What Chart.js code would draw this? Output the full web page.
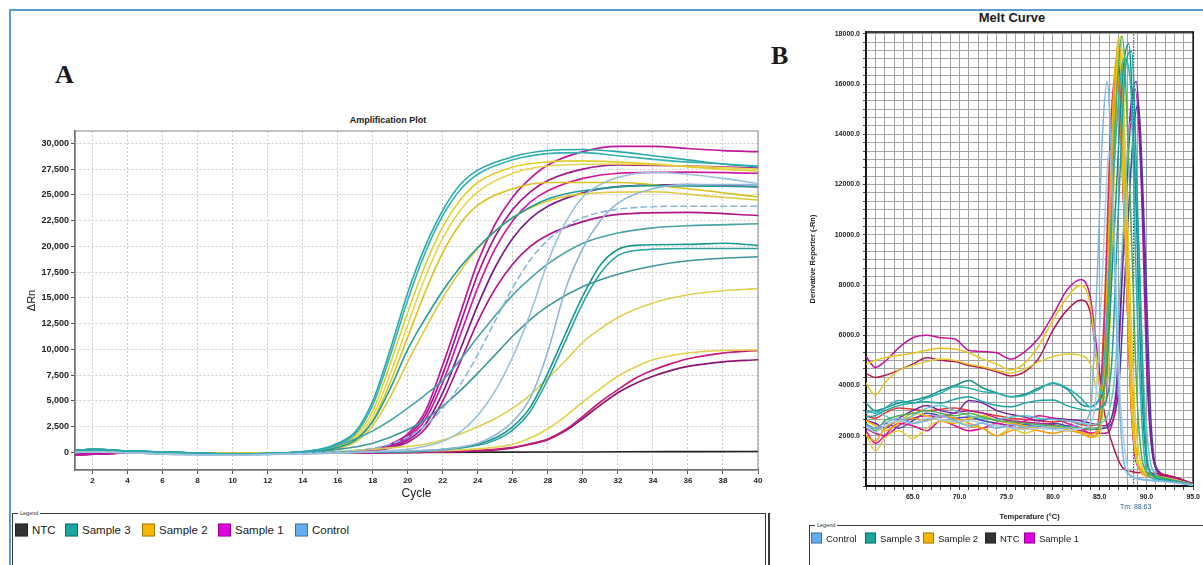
<!DOCTYPE html>
<html>
<head>
<meta charset="utf-8">
<script src="https://cdn.jsdelivr.net/npm/chart.js@4.4.1/dist/chart.umd.min.js"></script>
<style>
  body { margin: 0; width: 1203px; height: 565px; overflow: hidden; position: relative; background: #fff;
         font-family: "Liberation Sans", Arial, sans-serif; color: #1a1a1a; }
  .abs { position: absolute; }
  #frame { left: 9px; top: 9px; width: 1300px; height: 700px; border-top: 2px solid #5b9bd5; border-left: 2px solid #5b9bd5; }
  .panel { font-family: "Liberation Serif", "DejaVu Serif", serif; font-weight: bold; font-size: 26px; }
  .ctitle { font-weight: bold; white-space: nowrap; transform: translate(-50%, -50%); }
  .lbox { border: 1.5px solid #3a3a3a; border-bottom: none; }
  .ltag { font-size: 5.5px; background: #fff; padding: 0 2px; color: #333; transform: translateY(-50%); }
  .sq { width: 12px; height: 12px; border: 1px solid rgba(0,0,0,0.35); box-sizing: border-box; transform: translateY(-50%); }
  .lt { white-space: nowrap; transform: translateY(-50%); }
</style>
</head>
<body>
<div id="frame" class="abs"></div>

<div class="abs panel" style="left:55px; top:60px;">A</div>
<div class="abs panel" style="left:771px; top:41px;">B</div>

<div class="abs ctitle" style="left:388px; top:120px; font-size:9px;">Amplification Plot</div>
<div class="abs ctitle" style="left:1012px; top:17px; font-size:13px;">Melt Curve</div>

<canvas id="ampCanvas" class="abs" width="760" height="400" style="left:12px; top:108px; width:760px; height:400px;"></canvas>
<canvas id="meltCanvas" class="abs" width="403" height="525" style="left:800px; top:0px; width:403px; height:525px;"></canvas>

<!-- legend A -->
<div class="abs lbox" style="left:12px; top:513px; width:752px; height:70px;"></div>
<div class="abs" style="left:768px; top:513px; width:1.5px; height:60px; background:#3a3a3a;"></div>
<div class="abs ltag" style="left:18px; top:513px;">Legend</div>
<div id="legendA"></div>

<!-- legend B -->
<div class="abs lbox" style="left:809px; top:525px; width:420px; height:60px;"></div>
<div class="abs ltag" style="left:815px; top:525px;">Legend</div>
<div id="legendB"></div>

<script>
// ---------- Amplification plot data (cycle, ΔRn) ----------
const cycleTicks = [2, 4, 6, 8, 10, 12, 14, 16, 18, 20, 22, 24, 26, 28, 30, 32, 34, 36, 38, 40];
const deltaRnTicks = [0, 2500, 5000, 7500, 10000, 12500, 15000, 17500, 20000, 22500, 25000, 27500, 30000];

const baseTeal = [[1, 200], [2, 300], [4, 150], [7, 0], [10, -150], [13, -50]];
const baseYellow = [[1, 150], [2, 250], [4, 100], [7, -50], [10, -100], [13, -30]];
const baseMagenta = [[1, -200], [2, -150], [4, -50], [7, -100], [10, -150], [13, -80]];
const baseBlue = [[1, 0], [2, 50], [4, -30], [7, -200], [10, -260], [13, -150]];

const sample3Amp = [
  [[15, 300], [16, 900], [17, 2000], [18, 5000], [19, 10000], [20, 15500], [21, 20000], [22, 23500], [23, 26000], [24, 27400], [26, 28700], [28, 29300], [30, 29400], [32, 29200], [34, 28800], [36, 28400], [38, 28000], [40, 27700]],
  [[15, 250], [16, 800], [17, 1800], [18, 4600], [19, 9400], [20, 14800], [21, 19400], [22, 23000], [23, 25500], [24, 27000], [26, 28400], [28, 29000], [30, 29100], [32, 28800], [35, 28300], [38, 28000], [40, 27800]],
  [[15, 150], [16, 500], [17, 1200], [18, 3000], [19, 6200], [20, 10000], [21, 13000], [22, 15700], [23, 18000], [24, 19900], [25, 21500], [26, 22800], [28, 24600], [30, 25400], [34, 25900], [40, 25800]],
  [[15, 0], [20, 100], [22, 300], [24, 800], [25, 1400], [26, 2500], [27, 4400], [28, 7700], [29, 11500], [30, 15200], [31, 18200], [32, 19700], [33, 20100], [36, 20200], [38, 20300], [40, 20100]],
  [[15, 0], [20, 80], [22, 250], [24, 700], [25, 1200], [26, 2200], [27, 4000], [28, 7100], [29, 10800], [30, 14500], [31, 17400], [32, 19100], [33, 19600], [36, 19800], [38, 19800], [40, 19800]],
  [[14, 100], [15, 300], [16, 700], [17, 1300], [18, 2100], [19, 3100], [20, 4300], [21, 5600], [22, 7000], [23, 9000], [24, 11200], [25, 13300], [26, 15300], [27, 16900], [28, 18300], [30, 20300], [32, 21300], [34, 21800], [36, 22000], [40, 22200]],
  [[14, 50], [16, 300], [18, 900], [20, 2200], [21, 3200], [22, 4500], [23, 6000], [24, 7700], [25, 9500], [26, 11300], [27, 12900], [28, 14200], [30, 16100], [32, 17300], [34, 18100], [36, 18600], [38, 18850], [40, 19000]]
];
const sample3AmpColors = ['#2aa9ad', '#36b2b2', '#1f9e96', '#17998f', '#2ba3a3', '#4aa3a6', '#3d9598'];

const sample2Amp = [
  [[15, 200], [16, 700], [17, 1600], [18, 4000], [19, 8600], [20, 13600], [21, 18200], [22, 21900], [23, 24500], [24, 26200], [26, 27700], [28, 28200], [30, 28300], [34, 28000], [37, 27600], [40, 27300]],
  [[15, 180], [16, 600], [17, 1400], [18, 3500], [19, 7600], [20, 12400], [21, 17000], [22, 20800], [23, 23500], [24, 25300], [26, 27100], [28, 27800], [32, 28000], [36, 27800], [40, 27500]],
  [[15, 150], [16, 500], [17, 1200], [18, 3100], [19, 6800], [20, 11200], [21, 15600], [22, 19400], [23, 22200], [24, 24000], [26, 25600], [28, 26200], [32, 26200], [36, 25600], [40, 24800]],
  [[15, 120], [16, 400], [17, 1000], [18, 2600], [19, 5400], [20, 8800], [21, 12000], [22, 15000], [23, 17600], [24, 19800], [25, 21500], [26, 22800], [28, 24400], [30, 25100], [34, 25300], [37, 24900], [40, 24500]],
  [[15, 0], [17, 200], [19, 450], [21, 800], [22, 1200], [23, 1800], [24, 2500], [25, 3300], [26, 4300], [27, 5600], [28, 7200], [29, 8900], [30, 10700], [31, 12000], [32, 13100], [34, 14500], [36, 15300], [38, 15700], [40, 15900]],
  [[16, 0], [20, 100], [24, 350], [26, 800], [27, 1400], [28, 2300], [29, 3500], [30, 4900], [31, 6200], [32, 7400], [33, 8300], [34, 9000], [36, 9650], [38, 9900], [40, 9950]]
];
const sample2AmpColors = ['#e3cf2b', '#e8d44a', '#d9c21e', '#e0c83a', '#ddd050', '#e2d24a'];

const sample1Amp = [
  [[15, -50], [17, 100], [18, 300], [19, 800], [20, 1800], [21, 4000], [22, 8500], [23, 13500], [24, 18500], [25, 22200], [26, 24800], [27, 26600], [28, 27900], [30, 29200], [32, 29700], [34, 29700], [36, 29500], [38, 29300], [40, 29200]],
  [[15, -50], [17, 80], [18, 250], [19, 700], [20, 1600], [21, 3600], [22, 7600], [23, 12500], [24, 17300], [25, 21000], [26, 23600], [27, 25300], [28, 26400], [30, 27500], [32, 27900], [36, 27800], [40, 27600]],
  [[15, -60], [17, 60], [18, 200], [19, 600], [20, 1400], [21, 3200], [22, 6800], [23, 11400], [24, 16000], [25, 19800], [26, 22500], [27, 24300], [28, 25400], [30, 26600], [32, 27100], [36, 27200], [40, 27100]],
  [[15, -60], [17, 50], [18, 180], [19, 500], [20, 1200], [21, 2700], [22, 5800], [23, 10000], [24, 14300], [25, 18000], [26, 20800], [27, 22700], [28, 23900], [30, 25200], [32, 25800], [36, 26000], [40, 25800]],
  [[15, -70], [17, 40], [18, 150], [19, 450], [20, 1000], [21, 2300], [22, 5000], [23, 8800], [24, 12700], [25, 15900], [26, 18300], [27, 20000], [28, 21100], [30, 22400], [32, 23100], [36, 23300], [40, 23000]],
  [[16, -50], [20, 0], [24, 200], [26, 500], [27, 850], [28, 1300], [29, 2200], [30, 3500], [31, 4900], [32, 6100], [33, 7200], [34, 8000], [35, 8600], [36, 9100], [38, 9650], [40, 9900]],
  [[16, -60], [20, 0], [24, 150], [26, 450], [27, 800], [28, 1250], [29, 2100], [30, 3300], [31, 4600], [32, 5800], [33, 6700], [34, 7400], [35, 7950], [36, 8350], [38, 8800], [40, 9000]]
];
const sample1AmpColors = ['#c0179f', '#a3168f', '#d11aa5', '#7e1d8c', '#b0148a', '#c81a7a', '#8c1470'];

const controlAmp = [
  [[15, -100], [18, 100], [20, 300], [21, 600], [22, 1100], [23, 2000], [24, 3600], [25, 6000], [26, 9300], [27, 13500], [28, 18500], [29, 22300], [30, 24800], [31, 26000], [32, 26700], [34, 27200], [36, 27000], [38, 26600], [40, 26100]],
  [[15, -100], [20, 150], [22, 300], [24, 900], [25, 1700], [26, 3000], [27, 5300], [28, 9800], [29, 15800], [30, 19800], [31, 22500], [32, 24200], [34, 25600], [36, 26000], [40, 26000]],
  [[15, 0], [17, 200], [18, 400], [19, 800], [20, 1500], [21, 2600], [22, 4300], [23, 6600], [24, 9500], [25, 12800], [26, 16000], [27, 18700], [28, 20600], [29, 21900], [30, 22800], [32, 23600], [36, 23900], [40, 23900]]
];
const controlAmpColors = ['#9cc3de', '#8fb6d6', '#8db6dc'];

const ntcAmp = [[1, -100], [4, -50], [8, -100], [12, -80], [16, -30], [20, 0], [25, 30], [30, 50], [35, 80], [40, 100]];

// ---------- Melt curve data (temperature, derivative reporter) ----------
const meltBgTemps = [60, 61, 62, 63.5, 65, 66.5, 68, 69.5, 71, 72.5, 74, 75.5, 77, 78.5, 80, 81.5, 83, 84];
const meltYTicks = [2000, 4000, 6000, 8000, 10000, 12000, 14000, 16000, 18000];
const tmValue = 88.63;

const sample1MeltBg = [
  [5150, 4720, 4950, 5500, 5900, 6000, 5900, 5850, 5400, 5350, 5300, 5050, 5350, 5900, 6800, 7800, 8220, 7500],
  [4480, 4320, 4400, 4610, 4850, 5100, 5000, 4950, 4800, 4700, 4550, 4380, 4550, 5100, 6200, 7000, 7400, 6900],
  [2200, 1700, 2000, 2500, 2400, 2200, 2600, 2400, 2200, 2300, 2500, 2400, 2600, 2800, 2700, 2500, 2300, 2100],
  [2600, 2500, 2300, 2700, 3000, 3200, 3000, 2900, 3400, 3300, 3000, 2850, 2750, 2600, 2700, 2650, 2600, 2500],
  [2300, 2100, 2000, 2400, 2700, 2800, 2750, 2900, 3000, 2900, 2700, 2600, 2550, 2500, 2450, 2300, 2200, 2100],
  [2800, 2700, 2900, 3100, 3050, 3000, 3050, 3100, 3000, 2900, 2800, 2700, 2650, 2600, 2550, 2600, 2450, 2400],
  [2450, 2300, 2500, 2300, 2600, 2900, 2800, 2700, 2750, 2600, 2500, 2400, 2450, 2350, 2500, 2400, 2300, 2250]
];
const sample1MeltPeak = [
  [[85, 4500], [85.6, 3200], [86.2, 9000], [86.9, 17300], [87.7, 9800], [88.5, 2300], [89.2, 700], [91, 450], [93, 300], [95, 80]],
  [[85, 4000], [85.8, 2400], [86.6, 1400], [87.4, 750], [88.5, 570], [90, 520], [91.5, 480], [93, 350], [95, 90]],
  [[84.8, 2200], [85.5, 6000], [86.2, 13500], [86.9, 16800], [87.7, 10300], [88.5, 2600], [89.2, 700], [91, 400], [95, 60]],
  [[85.5, 2400], [86.7, 3600], [87.5, 9500], [88.3, 15000], [88.9, 16100], [89.6, 11000], [90.3, 3000], [91, 700], [92, 400], [95, 80]],
  [[85.5, 2100], [86.7, 3200], [87.5, 9000], [88.2, 14000], [88.8, 15800], [89.4, 12500], [90.1, 4000], [90.9, 800], [92, 450], [95, 80]],
  [[84.8, 2500], [85.5, 7000], [86.2, 14500], [86.8, 16600], [87.6, 10800], [88.4, 3000], [89.1, 800], [90.5, 450], [93, 300], [95, 60]],
  [[85.5, 2300], [86.9, 3400], [87.8, 9000], [88.6, 14000], [89.1, 15200], [89.8, 10000], [90.5, 2500], [91.3, 600], [93, 350], [95, 70]]
];
const sample1MeltColors = ['#c0169c', '#b3184f', '#e0109a', '#7a1fa2', '#c2189a', '#e53935', '#3949ab'];

const sample2MeltBg = [
  [4850, 5000, 5100, 5200, 5280, 5400, 5480, 5450, 5300, 5050, 4850, 4620, 4900, 5600, 6600, 7500, 7990, 7200],
  [4100, 3620, 4100, 4600, 4800, 4950, 5050, 5000, 4850, 4750, 4600, 4500, 4650, 4950, 5150, 5250, 5200, 4850],
  [2000, 1800, 2300, 2600, 2700, 2600, 2800, 2700, 2500, 2300, 2000, 2200, 2300, 2200, 2100, 2200, 2100, 1950],
  [2100, 1400, 1900, 2200, 1900, 2300, 2600, 2600, 2400, 2300, 2000, 2300, 2100, 2300, 2400, 2300, 2100, 1950],
  [2600, 2400, 2200, 2500, 2900, 2800, 2600, 2500, 2700, 2800, 2600, 2500, 2400, 2300, 2350, 2250, 2150, 2050]
];
const sample2MeltPeak = [
  [[85, 4000], [85.7, 3500], [86.3, 9000], [87.0, 17800], [87.8, 9800], [88.6, 2500], [89.4, 700], [91, 400], [93, 250], [95, 60]],
  [[85, 3500], [85.7, 4500], [86.4, 11000], [87.2, 17900], [88.0, 10300], [88.8, 2800], [89.6, 700], [91, 400], [93, 250], [95, 60]],
  [[84.8, 2100], [85.6, 5000], [86.3, 12500], [87.0, 17800], [87.8, 11000], [88.5, 3500], [89.1, 900], [90, 400], [92, 300], [95, 60]],
  [[85, 2000], [85.8, 6000], [86.5, 14000], [87.1, 17500], [87.9, 9300], [88.7, 2000], [89.4, 600], [91, 350], [95, 50]],
  [[84.8, 2200], [85.6, 6000], [86.2, 13000], [86.8, 17100], [87.6, 11000], [88.4, 3000], [89.1, 800], [90.5, 400], [95, 50]]
];
const sample2MeltColors = ['#e6c619', '#e2c930', '#f39c12', '#e0d040', '#f5b700'];

const sample3MeltBg = [
  [2760, 2800, 3000, 3200, 3300, 3350, 3300, 3450, 3550, 3350, 3200, 3150, 3300, 3400, 3420, 3200, 3050, 3000],
  [3000, 2900, 3100, 3400, 3300, 3500, 3700, 3950, 3900, 3750, 3700, 3550, 3600, 3850, 4110, 3900, 3500, 3150],
  [2500, 2200, 2600, 2800, 2900, 3000, 2900, 2800, 2900, 2750, 2600, 2550, 2500, 2450, 2400, 2350, 2300, 2250],
  [3300, 3000, 3100, 3300, 3400, 3550, 3800, 4000, 4200, 3900, 3700, 3550, 3650, 3900, 4080, 3850, 3250, 3150],
  [2900, 3000, 2800, 2600, 2800, 3100, 3200, 3000, 2800, 2700, 2650, 2750, 2800, 2700, 2650, 2600, 2500, 2450]
];
const sample3MeltPeak = [
  [[85, 3100], [86.2, 4500], [87, 11000], [87.8, 16800], [88.4, 17300], [89.1, 10500], [89.8, 2500], [90.5, 500], [92, 250], [95, 40]],
  [[84.5, 3200], [85.5, 5000], [86.5, 12500], [87.6, 17000], [88.3, 16000], [89.0, 7000], [89.7, 1500], [90.4, 350], [92, 200], [95, 30]],
  [[84.8, 2300], [85.8, 5500], [86.6, 14000], [87.4, 17900], [88.2, 12000], [89.0, 3500], [89.7, 800], [91, 400], [95, 60]],
  [[84.6, 3300], [85.6, 4200], [86.6, 10500], [87.5, 16500], [88.1, 17600], [88.8, 12000], [89.6, 3000], [90.3, 600], [92, 250], [95, 40]],
  [[85, 2500], [86.5, 4000], [87.5, 10000], [88.3, 14500], [89.0, 11000], [89.8, 3500], [90.6, 700], [92, 300], [95, 40]]
];
const sample3MeltColors = ['#1aa3a0', '#2bb3b3', '#4caf50', '#138f8f', '#5cc8c8'];

const controlMeltBg = [
  [2400, 2300, 2500, 2700, 2500, 2600, 2800, 2600, 2400, 2500, 2300, 2450, 2350, 2400, 2300, 2300, 2500, 3000],
  [2350, 2150, 2400, 2600, 2500, 2700, 2650, 2550, 2600, 2500, 2400, 2300, 2250, 2300, 2250, 2200, 2300, 2500]
];
const controlMeltPeak = [
  [[84.7, 8000], [85.3, 14000], [85.8, 16100], [86.3, 12500], [86.9, 5000], [87.5, 1200], [88.3, 400], [90, 250], [93, 150], [95, 40]],
  [[84.6, 3600], [85.3, 8500], [86.0, 13300], [86.6, 9500], [87.2, 3500], [87.9, 900], [88.6, 350], [91, 200], [95, 40]]
];
const controlMeltColors = ['#7cb5e0', '#a8cde8'];

// ---------- legends ----------
const legendALabels = ['NTC', 'Sample 3', 'Sample 2', 'Sample 1', 'Control'];
const legendAColors = ['#333333', '#1aa5a0', '#f5b800', '#e000e0', '#62aef0'];
const legendASquareX = [15, 65, 142, 218, 295];
const legendBLabels = ['Control', 'Sample 3', 'Sample 2', 'NTC', 'Sample 1'];
const legendBColors = ['#62aef0', '#1aa5a0', '#f5b800', '#333333', '#e000e0'];
const legendBSquareX = [811, 865, 923, 985, 1024];

function buildLegend(id, labels, colors, xs, y, size, fontSize) {
  const host = document.getElementById(id);
  labels.forEach((label, i) => {
    const sq = document.createElement('div');
    sq.className = 'abs sq';
    sq.style.cssText = `left:${xs[i]}px;top:${y}px;width:${size}px;height:${size}px;background:${colors[i]};`;
    host.appendChild(sq);
    const t = document.createElement('div');
    t.className = 'abs lt';
    t.style.cssText = `left:${xs[i] + size + 4}px;top:${y}px;font-size:${fontSize}px;`;
    t.textContent = label;
    host.appendChild(t);
  });
}
buildLegend('legendA', legendALabels, legendAColors, legendASquareX, 530, 13, 11.5);
buildLegend('legendB', legendBLabels, legendBColors, legendBSquareX, 538, 11, 9.5);

// ---------- charts ----------
Chart.defaults.font.family = '"Liberation Sans", Arial, sans-serif';
Chart.defaults.color = '#1a1a1a';

const boxPlugin = {
  id: 'box',
  beforeDatasetsDraw(chart, args, opts) {
    const a = chart.chartArea;
    const ctx = chart.ctx;
    ctx.save();
    ctx.strokeStyle = opts.color;
    ctx.lineWidth = opts.width;
    ctx.strokeRect(a.left, a.top, a.right - a.left, a.bottom - a.top);
    ctx.restore();
  }
};

function lineSet(data, color, width, dash) {
  return {
    data: data,
    borderColor: color,
    borderWidth: width,
    borderDash: dash || [],
    pointRadius: 0,
    fill: false,
    cubicInterpolationMode: 'monotone'
  };
}

const ampSets = [];
controlAmp.forEach((c, i) => ampSets.push(lineSet(baseBlue.concat(c), controlAmpColors[i], 1.6, i === 2 ? [7, 3] : [])));
sample3Amp.forEach((c, i) => ampSets.push(lineSet(baseTeal.concat(c), sample3AmpColors[i], 1.6)));
sample2Amp.forEach((c, i) => ampSets.push(lineSet(baseYellow.concat(c), sample2AmpColors[i], 1.6)));
sample1Amp.forEach((c, i) => ampSets.push(lineSet(baseMagenta.concat(c), sample1AmpColors[i], 1.7)));
ampSets.push(lineSet(ntcAmp, '#222222', 1.6));

new Chart(document.getElementById('ampCanvas'), {
  type: 'line',
  data: { datasets: ampSets },
  plugins: [boxPlugin],
  options: {
    responsive: false,
    animation: false,
    devicePixelRatio: 1,
    layout: { padding: { top: 23, right: 14, left: 0, bottom: 0 } },
    plugins: { legend: { display: false }, tooltip: { enabled: false }, box: { color: '#8a8a8a', width: 1 } },
    scales: {
      x: {
        type: 'linear', min: 1, max: 40,
        afterBuildTicks: (s) => { s.ticks = cycleTicks.map((v) => ({ value: v })); },
        afterFit: (s) => { s.height = 38; },
        ticks: { autoSkip: false, maxRotation: 0, padding: 2, font: { size: 8, weight: 'bold' }, color: '#222' },
        grid: { color: '#cdcdcd', tickColor: '#555', tickLength: 4 },
        border: { dash: [2, 2], color: '#555', width: 1.5 },
        title: { display: true, text: 'Cycle', font: { size: 12 }, color: '#222', padding: { top: 0, bottom: 7 } }
      },
      y: {
        type: 'linear', min: -1700, max: 31200,
        afterBuildTicks: (s) => { s.ticks = deltaRnTicks.map((v) => ({ value: v })); },
        afterFit: (s) => { s.width = 63; },
        ticks: { padding: 2, font: { size: 9, weight: 'bold' }, color: '#222', callback: (v) => v.toLocaleString('en-US') },
        grid: { color: '#cdcdcd', tickColor: '#555', tickLength: 4 },
        border: { dash: [2, 2], color: '#555', width: 1.5 },
        title: { display: true, text: 'ΔRn', font: { size: 11 }, color: '#222', padding: { top: 13, bottom: 0 } }
      }
    }
  }
});

const meltSets = [];
function addMelt(bgs, peaks, colors) {
  bgs.forEach((bg, i) => {
    const pts = meltBgTemps.map((t, k) => [t, bg[k]]).concat(peaks[i]);
    meltSets.push(lineSet(pts, colors[i], 1.5));
  });
}
addMelt(controlMeltBg, controlMeltPeak, controlMeltColors);
addMelt(sample3MeltBg, sample3MeltPeak, sample3MeltColors);
addMelt(sample2MeltBg, sample2MeltPeak, sample2MeltColors);
addMelt(sample1MeltBg, sample1MeltPeak, sample1MeltColors);
meltSets.push(lineSet([[tmValue, 0], [tmValue, 18070]], '#2c4a6e', 1.2, [1.5, 1.5]));

const tmPlugin = {
  id: 'tmLabel',
  afterDraw(chart) {
    const ctx = chart.ctx;
    const x = chart.scales.x.getPixelForValue(tmValue);
    ctx.save();
    ctx.fillStyle = '#2d5f9e';
    ctx.font = '7px "Liberation Sans", Arial, sans-serif';
    ctx.textAlign = 'center';
    ctx.textBaseline = 'middle';
    ctx.fillText('Tm: ' + tmValue.toFixed(2), x + 2, chart.chartArea.bottom + 21);
    ctx.restore();
  }
};

new Chart(document.getElementById('meltCanvas'), {
  type: 'line',
  data: { datasets: meltSets },
  plugins: [boxPlugin, tmPlugin],
  options: {
    responsive: false,
    animation: false,
    devicePixelRatio: 1,
    layout: { padding: { top: 32, right: 9, left: 0, bottom: 0 } },
    plugins: { legend: { display: false }, tooltip: { enabled: false }, box: { color: '#111', width: 1.6 } },
    scales: {
      x: {
        type: 'linear', min: 60, max: 95,
        afterBuildTicks: (s) => { const t = []; for (let v = 60; v <= 95; v++) t.push({ value: v }); s.ticks = t; },
        afterFit: (s) => { s.height = 39; },
        ticks: { autoSkip: false, maxRotation: 0, padding: 3, font: { size: 7, weight: 'bold' }, color: '#222',
                 callback: (v) => (v % 5 === 0 && v > 60 ? v.toFixed(1) : '') },
        grid: { color: '#a3a3a3', tickColor: '#444', tickLength: 4 },
        border: { color: '#111', width: 1.6 },
        title: { display: true, text: 'Temperature (°C)', font: { size: 7.5, weight: 'bold' }, color: '#222', padding: { top: 0, bottom: 4 } }
      },
      y: {
        type: 'linear', min: 0, max: 18070,
        afterBuildTicks: (s) => { const t = []; for (let i = 0; i <= 54; i++) t.push({ value: i * 2000 / 6 }); s.ticks = t; },
        afterFit: (s) => { s.width = 66; },
        ticks: { autoSkip: false, padding: 3, font: { size: 7, weight: 'bold' }, color: '#222',
                 callback: (v) => { const r = Math.round(v); return Math.abs(v - r) < 1e-6 && meltYTicks.includes(r) ? r.toFixed(1) : ''; } },
        grid: { color: '#a3a3a3', tickColor: '#444', tickLength: 3 },
        border: { color: '#111', width: 1.6 },
        title: { display: true, text: 'Derivative Reporter (-Rn)', font: { size: 7.5, weight: 'bold' }, color: '#222', padding: { top: 8, bottom: 0 } }
      }
    }
  }
});
</script>
</body>
</html>
